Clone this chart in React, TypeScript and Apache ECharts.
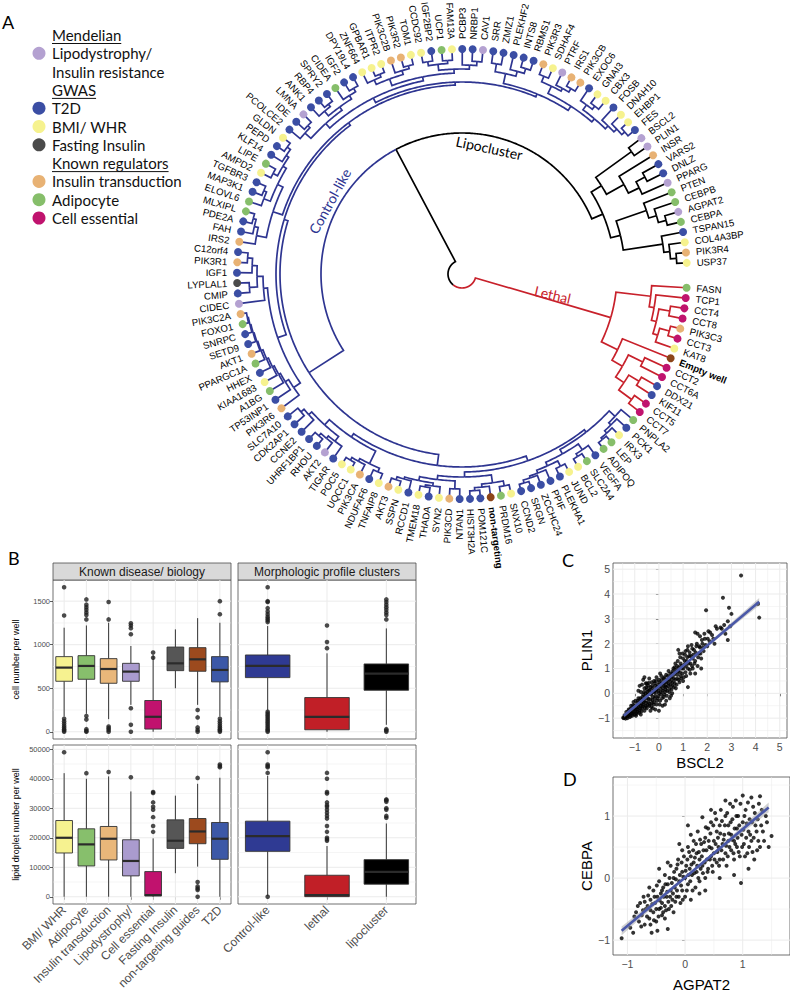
import React, { useEffect, useRef } from 'react';
import * as echarts from 'echarts';

// ---------------- Panel A : dendrogram data ----------------
const CAT_COLORS: Record<string, string> = {
  L: '#b4a1d1', T: '#3b4ea4', B: '#f6f28e', F: '#4b4b4b', I: '#e8b274', A: '#86be6a', E: '#c0136e', N: '#8c4519',
};
const GROUP_COLORS: Record<string, string> = { root: '#000000', lethal: '#c8212b', control: '#2e3591', lipo: '#000000' };

const lethalLeaves = ['FASN', 'TCP1', 'CCT4', 'CCT8', 'PIK3C3', 'CCT3', 'KAT8', 'Empty well', 'CCT2', 'CCT6A', 'DDX21', 'KIF11', 'CCT5', 'CCT7'];
const lethalCats = ['A', 'E', 'E', 'E', 'I', 'E', 'B', 'N', 'E', 'E', 'T', 'T', 'E', 'E'];
const controlLeaves = ['PNPLA2', 'PCK1', 'IRX3', 'LEP', 'ADIPOQ', 'VEGFA', 'SLC2A4', 'BCL2', 'JUND', 'PLEKHA1', 'PPIF', 'ZCCHC24', 'SRGN', 'CCND2', 'SNX10', 'PRDM16', 'non-targeting', 'POM121C', 'HIST3H2A', 'NTAN1', 'PIK3CD', 'SYN2', 'THADA', 'TMEM18', 'RCCD1', 'SSPN', 'AKT3', 'TNFAIP8', 'NDUFAF6', 'PIK3CA', 'UQCC1', 'POC5', 'TIGAR', 'AKT2', 'RHOU', 'UHRF1BP1', 'CCNE2', 'CDK2AP1', 'SLC7A10', 'PIK3R6', 'TP53INP1', 'A1BG', 'KIAA1683', 'HHEX', 'PPARGC1A', 'AKT1', 'SETD9', 'SNRPC', 'FOXO1', 'PIK3C2A', 'CIDEC', 'CMIP', 'LYPLAL1', 'IGF1', 'PIK3R1', 'C12orf4', 'IRS2', 'FAH', 'PDE2A', 'MLXIPL', 'ELOVL6', 'MAP3K1', 'TGFBR3', 'AMPD2', 'LIPE', 'KLF14', 'PEPD', 'GLDN', 'PCOLCE2', 'IDE', 'LMNA', 'ANK1', 'RBP4', 'SPRY2', 'CIDEA', 'IGF2', 'DPY19L4', 'ZNF664', 'GPBAR1', 'ITPR2', 'PIK3C2B', 'PIK3R2', 'TOM1', 'CCDC92', 'IGF2BP2', 'UCP1', 'FAM13A', 'PCBP3', 'NRBP1', 'CAV1', 'SRR', 'ZMIZ1', 'PLEKHF2', 'INTS8', 'RBMS1', 'PIK3R3', 'SDHAF4', 'PTRF', 'IRS1', 'PIK3CB', 'EXOC6', 'GNAI3', 'CBX3', 'FOSB', 'DNAH10', 'EHBP1', 'FES'];
const controlCats = ['A', 'T', 'B', 'A', 'A', 'T', 'A', 'B', 'B', 'T', 'T', 'T', 'T', 'T', 'B', 'A', 'N', 'T', 'T', 'T', 'I', 'B', 'T', 'B', 'T', 'B', 'I', 'B', 'T', 'I', 'B', 'B', 'T', 'L', 'T', 'T', 'T', 'T', 'T', 'I', 'T', 'A', 'B', 'T', 'A', 'I', 'T', 'T', 'A', 'I', 'L', 'T', 'F', 'T', 'I', 'T', 'I', 'T', 'T', 'A', 'A', 'T', 'T', 'B', 'A', 'T', 'T', 'B', 'T', 'T', 'L', 'T', 'T', 'T', 'A', 'T', 'T', 'B', 'B', 'B', 'I', 'I', 'B', 'B', 'T', 'A', 'B', 'T', 'T', 'L', 'T', 'T', 'T', 'T', 'T', 'I', 'B', 'L', 'I', 'I', 'T', 'B', 'B', 'T', 'B', 'B', 'T'];
const lipoLeaves = ['BSCL2', 'PLIN1', 'INSR', 'VARS2', 'DNLZ', 'PPARG', 'PTEN', 'CEBPB', 'AGPAT2', 'CEBPA', 'TSPAN15', 'COL4A3BP', 'PIK3R4', 'USP37'];
const lipoCats = ['L', 'L', 'I', 'T', 'T', 'L', 'A', 'A', 'L', 'A', 'T', 'B', 'I', 'B'];

// merge heights (distance inward from the leaf ring)
const ROOT_H = 211;
const OTHER_H = 84;
const lethalTree: any = [70,
  [35, 'FASN', [30, 'TCP1', [25, [14, 'CCT4', 'CCT8'], [20, [10, 'PIK3C3', 'CCT3'], 'KAT8']]]],
  [52, 'Empty well', [40, [24, 'CCT2', 'CCT6A'], [30, [18, 'DDX21', 'KIF11'], [14, 'CCT5', 'CCT7']]]],
];
const lipoTree: any = [72,
  [60, [16, 'BSCL2', 'PLIN1'], [40, 'INSR', [28, [18, 'VARS2', 'DNLZ'], 'PPARG']]],
  [62, [30, 'PTEN', [22, 'CEBPB', [14, 'AGPAT2', 'CEBPA']]], [22, 'TSPAN15', [16, 'COL4A3BP', [10, 'PIK3R4', 'USP37']]]],
];
const controlTree: any = [43,
  [32,
    [27,
      [24,
        [16, 'PNPLA2', [13, 'PCK1', [10, 'IRX3', [8, 'LEP', 'ADIPOQ']]]],
        [19, [12, 'VEGFA', [9, 'SLC2A4', 'BCL2']], [15, [9, 'JUND', 'PLEKHA1'], [12, 'PPIF', [10, 'ZCCHC24', [7, 'SRGN', 'CCND2']]]]],
      ],
      [22, [14, [9, 'SNX10', 'PRDM16'], [11, 'non-targeting', [8, 'POM121C', 'HIST3H2A']]],
        [18, [10, 'NTAN1', 'PIK3CD'], [14, [11, 'SYN2', [9, 'THADA', 'TMEM18']], [12, 'RCCD1', [9, 'SSPN', 'AKT3']]]]],
    ],
    [28,
      [14, [10, 'TNFAIP8', 'NDUFAF6'], [11, 'PIK3CA', [8, 'UQCC1', 'POC5']]],
      [21, [15, 'TIGAR', [12, 'AKT2', [9, 'RHOU', 'UHRF1BP1']]], [17, 'CCNE2', [13, 'CDK2AP1', 'SLC7A10']]],
    ],
  ],
  [39,
    [30,
      [22, 'PIK3R6', [18, 'TP53INP1', [16, 'A1BG', [14, 'KIAA1683', [12, 'HHEX', [10, 'PPARGC1A', [9, 'AKT1', [8, 'SETD9', [7, 'SNRPC', [6, 'FOXO1', 'PIK3C2A']]]]]]]]]],
      [26, 'CIDEC', [20, [12, 'CMIP', 'LYPLAL1'], [15, 'IGF1', [10, 'PIK3R1', 'C12orf4']]]],
    ],
    [36,
      [26, [16, 'IRS2', [12, 'FAH', [9, 'PDE2A', 'MLXIPL']]], [20, [13, 'ELOVL6', [10, 'MAP3K1', 'TGFBR3']], [16, [11, 'AMPD2', 'LIPE'], [13, 'KLF14', [9, 'PEPD', 'GLDN']]]]],
      [33,
        [28, [22, [14, 'PCOLCE2', [11, 'IDE', 'LMNA']], [18, [12, 'ANK1', [9, 'RBP4', 'SPRY2']], [14, 'CIDEA', [10, 'IGF2', 'DPY19L4']]]],
          [24, [17, [12, 'ZNF664', [9, 'GPBAR1', 'ITPR2']], [13, 'PIK3C2B', [10, 'PIK3R2', 'TOM1']]], [20, [14, [10, 'CCDC92', 'IGF2BP2'], [11, 'UCP1', 'FAM13A']], [16, 'PCBP3', [12, 'NRBP1', 'CAV1']]]]],
        [30, [20, [12, 'SRR', 'ZMIZ1'], [15, 'PLEKHF2', [10, 'INTS8', 'RBMS1']]],
          [25, [17, [11, 'PIK3R3', 'SDHAF4'], [14, 'PTRF', [10, 'IRS1', 'PIK3CB']]], [21, [15, 'EXOC6', [11, 'GNAI3', 'CBX3']], [17, 'FOSB', [13, 'DNAH10', [9, 'EHBP1', 'FES']]]]]],
      ],
    ],
  ],
];
const ANGLE_SLOTS = 136.4; // leaf slots around the full circle
const cladeLabels = [
  { text: 'Lethal', h: 132, a: 3.5, mode: 'radial', group: 'lethal' },
  { text: 'Lipocluster', h: 96, a: 105.6, mode: 'tangent', group: 'lipo' },
  { text: 'Control-like', h: 74, a: 77.8, mode: 'tangent', group: 'control' },
];
const legendRows = [
  { kind: 'head', text: 'Mendelian' },
  { kind: 'item', cat: 'L', text: 'Lipodystrophy/' },
  { kind: 'cont', text: 'Insulin resistance' },
  { kind: 'head', text: 'GWAS' },
  { kind: 'item', cat: 'T', text: 'T2D' },
  { kind: 'item', cat: 'B', text: 'BMI/ WHR' },
  { kind: 'item', cat: 'F', text: 'Fasting Insulin' },
  { kind: 'head', text: 'Known regulators' },
  { kind: 'item', cat: 'I', text: 'Insulin transduction' },
  { kind: 'item', cat: 'A', text: 'Adipocyte' },
  { kind: 'item', cat: 'E', text: 'Cell essential' },
];

// ---------------- Panel B : boxplots ----------------
const knownCats = ['BMI/ WHR', 'Adipocyte', 'Insulin transduction', 'Lipodystrophy/', 'Cell essential', 'Fasting Insulin', 'non-targeting guides', 'T2D'];
const knownColors = ['#f6f290', '#87bf6c', '#e9b77a', '#aa9bce', '#c1126e', '#565656', '#9c4a1e', '#3c58a7'];
const clusterCats = ['Control-like', 'lethal', 'lipocluster'];
const clusterColors = ['#2f3a93', '#c11f27', '#000000'];
// [min, q1, median, q3, max]
const cellKnown = [
  [175, 580, 737, 863, 1195], [206, 603, 756, 874, 1221], [145, 557, 721, 840, 1252], [309, 580, 691, 786, 985],
  [0, 31, 172, 359, 886], [500, 702, 786, 973, 1176], [309, 695, 832, 966, 1305], [175, 573, 710, 863, 1252],
];
const cellCluster = [[244, 622, 756, 882, 1214], [0, 23, 172, 393, 901], [80, 477, 668, 779, 1187]];
const lipidKnown = [
  [0, 14840, 20000, 25850, 41900], [0, 10450, 17760, 23040, 40000], [0, 12480, 19670, 23830, 40800], [0, 7080, 12140, 19330, 35700],
  [0, 300, 560, 8540, 19800], [7980, 16410, 19000, 26080, 34280], [10230, 17980, 22140, 26530, 38300], [0, 12700, 19670, 25180, 40350],
];
const lipidCluster = [[300, 15400, 20570, 25630, 41000], [0, 50, 560, 7300, 17200], [0, 4270, 8430, 12590, 24840]];
const cellKnownOut = [
  [1660, 1335, 150, 120, 95, 70, 50, 30, 15, 0], [1520, 1460, 1430, 1400, 1370, 1340, 1290, 180, 140, 30, 10, 0],
  [1490, 1290, 60, 40, 20, 0], [1245, 1220, 1190, 1120, 270, 80, 0], [910, 850], [], [250, 165, 50, 20, 0],
  [1500, 1350, 150, 120, 95, 70, 50, 30, 15, 0],
];
const cellClusterOut = [
  [1660, 1500, 1490, 1420, 1380, 1350, 1320, 1300, 1280, 1260, 230, 210, 190, 170, 150, 130, 110, 90, 70, 50, 30, 15, 0],
  [1220, 1030, 960],
  [1520, 1490, 1460, 1430, 1400, 1370, 1340, 1290, 30, 15, 0],
];
const lipidKnownOut = [[49000], [41900], [42300], [40500], [35500, 35200, 32000, 30500, 29500, 27000, 24000, 22000], [], [40300, 5000, 3500, 2800, 2300, 0], [44800, 44300, 43900]];
const lipidClusterOut = [
  [49000, 44800, 44300, 43900, 42000, 0],
  [42000, 40000, 35500, 35000, 32000, 31000, 30500, 29500, 28500, 27500, 26500, 24000, 22000, 20000, 19500, 19000],
  [33000, 32700, 32200, 30000, 29500, 27400, 26800],
];
const cellMajor = [0, 500, 1000, 1500];
const cellMinor = [250, 750, 1250];
const lipidMajor = [0, 10000, 20000, 30000, 40000, 50000];
const lipidMinor = [5000, 15000, 25000, 35000, 45000];

// ---------------- Panel C / D : scatter ----------------
const scatterC = [
  [-1.45, -1.0], [-1.4, -0.95], [-1.35, -0.9], [-1.3, -1.0], [-1.25, -0.85], [-1.2, -0.95], [-1.2, -0.7], [-1.15, -0.8], [-1.1, -0.9], [-1.1, -0.6],
  [-1.05, -0.75], [-1.0, -0.5], [-1.0, -0.85], [-0.95, -0.65], [-0.9, -0.4], [-0.9, -0.75], [-0.85, -0.55], [-0.85, -0.2], [-0.8, -0.7], [-0.8, -0.35],
  [-0.75, -0.5], [-0.75, 0.05], [-0.7, -0.6], [-0.7, -0.25], [-0.7, 0.35], [-0.65, -0.45], [-0.65, -0.05], [-0.6, -0.7], [-0.6, -0.3], [-0.6, 0.2],
  [-0.55, -0.5], [-0.55, 0.0], [-0.55, 0.4], [-0.5, -0.2], [-0.5, -0.6], [-0.5, 0.15], [-0.45, -0.35], [-0.45, 0.3], [-0.45, -0.05], [-0.4, -0.5],
  [-0.4, 0.1], [-0.4, 0.6], [-0.35, -0.25], [-0.35, 0.25], [-0.3, -0.4], [-0.3, 0.0], [-0.3, 0.45], [-0.25, -0.15], [-0.25, 0.2], [-0.25, -0.6],
  [-0.2, 0.05], [-0.2, 0.5], [-0.2, -0.35], [-0.15, -0.1], [-0.15, 0.3], [-0.1, 0.15], [-0.1, -0.45], [-0.1, 0.65], [-0.05, -0.2], [-0.05, 0.35],
  [0.0, 0.0], [0.0, -0.7], [0.0, 0.55], [0.05, 0.2], [0.05, -0.3], [0.1, 0.4], [0.1, -0.05], [0.1, 0.7], [0.15, 0.1], [0.15, -0.5],
  [0.2, 0.3], [0.2, 0.6], [0.2, -0.15], [0.25, 0.45], [0.25, 0.05], [0.3, 0.25], [0.3, 0.75], [0.3, -0.3], [0.35, 0.55], [0.35, 0.1],
  [0.4, 0.4], [0.4, 0.9], [0.45, 0.2], [0.45, 0.65], [0.5, 0.5], [0.5, -0.1], [0.55, 0.8], [0.55, 0.3], [0.6, 0.6], [0.6, 1.0],
  [0.65, 0.4], [0.7, 0.85], [0.7, 0.2], [0.75, 1.1], [0.75, 0.6], [0.8, 1.75], [0.8, 0.9], [0.85, 0.45], [0.85, 1.6], [0.9, 1.2],
  [0.9, 0.7], [0.95, 1.0], [1.0, 1.4], [1.0, 0.5], [1.05, 1.15], [1.1, 1.7], [1.1, 0.85], [1.15, 1.3], [1.2, 1.0], [1.2, 1.9],
  [1.25, 1.5], [1.3, 1.2], [1.3, 0.8], [1.35, 1.95], [1.4, 1.4], [1.4, 1.0], [1.45, 1.75], [1.5, 2.45], [1.5, 1.3], [1.55, 1.9],
  [1.6, 2.4], [1.6, 1.1], [1.65, 1.6], [1.7, 2.3], [1.7, 1.85], [1.75, 1.4], [1.8, 2.0], [1.85, 1.7], [1.9, 2.2], [1.95, 3.35],
  [2.0, 1.9], [2.05, 2.5], [2.1, 2.1], [2.2, 2.35], [2.3, 2.0], [2.4, 2.6], [2.55, 2.65], [2.6, 2.6], [2.65, 3.85], [2.7, 2.75],
  [2.75, 2.4], [2.85, 2.9], [2.85, 2.15], [2.9, 3.45], [3.0, 3.2], [2.95, 2.7], [3.4, 4.75], [4.1, 3.6], [4.15, 3.05],
  [-1.35, -0.75], [-1.25, -0.65], [-1.15, -0.5], [-1.05, -0.35], [-0.95, -0.9], [-0.85, 0.1], [-0.75, -0.85], [-0.65, 0.55], [-0.5, 0.4], [-0.35, -0.7],
  [-0.15, -0.65], [0.05, 0.8], [0.25, -0.45], [-0.6, 0.65], [-0.8, 0.3], [0.45, -0.2], [0.65, 1.05], [0.55, 0.0], [1.2, 0.25], [1.5, 0.8], [1.75, 1.0],
  [-1.48, -0.98], [-1.42, -0.88], [-1.38, -1.02], [-1.33, -0.82], [-1.28, -0.92], [-1.27, -0.72], [-1.22, -0.82], [-1.18, -0.62], [-1.17, -0.9], [-1.12, -0.72],
  [-1.08, -0.82], [-1.07, -0.48], [-1.03, -0.62], [-0.98, -0.72], [-0.97, -0.3], [-0.93, -0.55], [-0.92, -0.82], [-0.88, -0.65], [-0.87, -0.3], [-0.83, -0.45],
  [-0.82, -0.78], [-0.78, -0.6], [-0.77, -0.2], [-0.73, -0.4], [-0.72, -0.72], [-0.68, -0.15], [-0.67, -0.52], [-0.63, -0.35], [-0.62, 0.05], [-0.58, -0.58],
  [-0.57, -0.12], [-0.53, -0.38], [-0.52, 0.25], [-0.48, -0.48], [-0.47, 0.05], [-0.43, -0.22], [-0.42, 0.42], [-0.38, -0.42], [-0.37, 0.15], [-0.33, -0.05],
  [-0.32, -0.55], [-0.28, 0.3], [-0.27, -0.28], [-0.23, 0.08], [-0.22, -0.45], [-0.18, 0.4], [-0.17, -0.2], [-0.13, 0.05], [-0.12, 0.5], [-0.08, -0.3],
  [-0.07, 0.25], [-0.03, 0.1], [-0.02, -0.12], [0.02, 0.45], [0.03, -0.45], [0.07, 0.3], [0.08, 0.05], [0.12, 0.55], [0.13, -0.2], [0.17, 0.2],
  [0.18, 0.4], [0.22, -0.05], [0.23, 0.65], [0.27, 0.3], [0.28, 0.15], [0.32, 0.45], [0.33, -0.1], [0.37, 0.7], [0.38, 0.3], [0.42, 0.55],
  [0.43, 0.05], [0.47, 0.8], [0.48, 0.35], [0.52, 0.15], [0.53, 0.65], [0.57, 0.45], [0.58, 0.9], [0.62, 0.25], [0.63, 0.75], [0.67, 0.55],
  [0.68, 1.2], [0.72, 0.95], [0.73, 0.35], [0.77, 0.75], [0.78, 1.3], [0.82, 0.55], [0.83, 1.05], [0.87, 0.85], [0.88, 1.45], [0.92, 0.6],
  [0.93, 1.1], [0.97, 0.8], [0.98, 1.6], [1.02, 1.0], [1.03, 0.65], [1.07, 1.3], [1.08, 1.55], [1.12, 1.1], [1.13, 0.7], [1.17, 1.45],
  [1.18, 1.75], [1.22, 1.2], [1.27, 1.65], [1.28, 0.95], [1.32, 1.5], [1.37, 1.1], [1.38, 1.8], [1.42, 1.55], [1.47, 1.2], [1.52, 1.65],
  [1.57, 2.0], [1.62, 1.45], [1.67, 1.9], [1.72, 1.6], [1.78, 2.15], [1.83, 1.85], [1.88, 2.4], [1.93, 1.95], [2.02, 2.2], [2.12, 2.45],
  [2.25, 2.2], [2.35, 2.7],
];
const scatterD = [
  [-1.1, -0.97], [-0.95, -0.8], [-0.9, -0.88], [-0.85, -0.55], [-0.8, -0.7], [-0.78, -0.4], [-0.75, -0.6], [-0.72, -0.3], [-0.7, -0.75], [-0.68, -0.5],
  [-0.65, -0.45], [-0.62, -0.65], [-0.6, -0.35], [-0.58, -0.88], [-0.55, -0.55], [-0.55, -0.2], [-0.52, -0.4], [-0.5, -0.7], [-0.48, -0.3], [-0.45, -0.5],
  [-0.45, -0.05], [-0.42, -0.25], [-0.4, -0.6], [-0.4, -0.4], [-0.38, -0.15], [-0.35, -0.45], [-0.35, 0.05], [-0.32, -0.3], [-0.3, -0.82], [-0.3, -0.1],
  [-0.28, -0.5], [-0.25, -0.2], [-0.25, 0.2], [-0.22, -0.35], [-0.2, 0.0], [-0.2, -0.55], [-0.18, -0.15], [-0.15, 0.15], [-0.15, -0.3], [-0.12, 0.3],
  [-0.1, -0.05], [-0.1, 0.55], [-0.08, -0.4], [-0.05, 0.1], [-0.05, -0.2], [-0.02, 0.35], [0.0, 0.0], [0.0, -0.3], [0.02, 0.2], [0.05, 0.5],
  [0.05, -0.1], [0.08, 0.15], [0.1, 0.35], [0.1, -0.35], [0.12, 0.05], [0.15, 0.6], [0.15, 0.25], [0.18, -0.15], [0.2, 0.4], [0.2, 0.1],
  [0.22, 0.75], [0.25, 0.3], [0.25, -0.05], [0.28, 0.55], [0.3, 0.98], [0.3, 0.2], [0.32, 0.45], [0.35, 0.0], [0.35, 0.65], [0.38, 0.3],
  [0.4, 0.8], [0.4, 0.15], [0.42, 0.5], [0.45, 0.35], [0.45, 0.9], [0.48, 0.1], [0.5, 0.6], [0.5, 0.4], [0.52, 1.05], [0.55, 0.25],
  [0.55, 0.75], [0.58, 0.5], [0.6, 0.85], [0.6, 0.3], [0.62, 1.1], [0.65, 0.55], [0.68, 0.7], [0.7, 0.4], [0.7, 1.0], [0.72, 0.2],
  [0.75, 0.6], [0.75, 0.85], [0.78, 1.2], [0.8, 0.45], [0.8, 0.7], [0.82, 0.95], [0.85, 0.3], [0.85, 0.6], [0.88, 1.25], [0.9, 0.8],
  [0.9, 0.5], [0.92, 1.0], [0.95, 0.35], [0.97, -0.08], [0.98, 0.7], [1.0, 1.33], [1.0, 0.9], [1.02, 0.55], [1.05, 1.1], [1.08, 0.4],
  [1.1, 0.75], [1.12, 0.95], [1.15, 0.6], [1.18, 1.15], [1.2, 0.3], [1.22, 0.85], [1.25, 0.45], [1.28, 1.2], [1.3, 1.32], [1.3, 0.5],
  [1.35, 0.75], [1.4, 1.0], [1.5, 0.68], [-0.6, -0.75], [-0.48, -0.85], [-0.35, -0.65], [-0.62, -0.15], [-0.05, 0.45], [0.1, 0.7], [0.35, -0.2],
  [0.6, 0.0], [0.85, 0.05], [1.1, 0.15], [0.25, -0.25], [-0.3, 0.25], [-0.45, 0.15], [0.05, 0.85], [0.45, 1.1], [0.7, 1.25], [1.15, 1.3],
  [-0.88, -0.62], [-0.82, -0.45], [-0.76, -0.78], [-0.73, -0.52], [-0.7, -0.38], [-0.66, -0.62], [-0.64, -0.28], [-0.6, -0.52], [-0.57, -0.42], [-0.54, -0.68],
  [-0.53, -0.3], [-0.5, -0.5], [-0.49, -0.12], [-0.46, -0.62], [-0.44, -0.36], [-0.42, -0.48], [-0.4, -0.2], [-0.38, -0.55], [-0.37, -0.3], [-0.34, -0.1],
  [-0.33, -0.52], [-0.31, -0.22], [-0.29, -0.38], [-0.27, 0.0], [-0.26, -0.3], [-0.24, -0.45], [-0.23, -0.08], [-0.21, -0.25], [-0.19, 0.1], [-0.17, -0.38],
  [-0.16, -0.02], [-0.14, -0.2], [-0.13, 0.22], [-0.11, -0.3], [-0.09, 0.05], [-0.07, -0.12], [-0.06, 0.25], [-0.04, -0.35], [-0.03, 0.02], [0.01, 0.12],
  [0.03, -0.2], [0.04, 0.3], [0.06, 0.05], [0.07, 0.42], [0.09, -0.05], [0.11, 0.22], [0.13, -0.2], [0.14, 0.45], [0.16, 0.08], [0.17, 0.33],
  [0.19, 0.55], [0.21, 0.2], [0.23, 0.0], [0.24, 0.42], [0.26, 0.62], [0.27, 0.15], [0.29, 0.35], [0.31, 0.08], [0.33, 0.58], [0.34, 0.25],
  [0.36, 0.82], [0.37, 0.45], [0.39, 0.1], [0.41, 0.6], [0.43, 0.3], [0.44, 0.72], [0.46, 0.48], [0.47, 0.2], [0.49, 0.85], [0.51, 0.3],
  [0.53, 0.55], [0.54, 0.95], [0.56, 0.42], [0.57, 0.65], [0.59, 0.2], [0.61, 0.72], [0.63, 0.45], [0.64, 0.92], [0.66, 0.3], [0.67, 0.62],
  [0.69, 0.85], [0.71, 0.52], [0.73, 1.05], [0.74, 0.35], [0.76, 0.72], [0.77, 0.5], [0.79, 0.9], [0.81, 0.62], [0.83, 1.15], [0.84, 0.4],
  [0.86, 0.8], [0.87, 0.55], [0.89, 1.0], [0.91, 0.65], [0.93, 0.42], [0.94, 0.85], [0.96, 1.2], [0.99, 0.5], [1.01, 0.78], [1.03, 1.0],
  [1.04, 0.35], [1.06, 0.65], [1.07, 0.88], [1.09, 1.22], [1.11, 0.5], [1.13, 0.7], [1.16, 0.9], [1.17, 0.42], [1.19, 0.65], [1.21, 1.05],
  [1.24, 0.75], [1.26, 0.95], [1.27, 0.6], [1.32, 0.85], [1.33, 1.1], [1.37, 0.6], [1.42, 0.9], [1.45, 0.5],
];
const fitC = [[-1.45, -0.9], [4.15, 3.69]];
const bandC = [[-1.45, -0.98, -0.82], [0, 0.26, 0.32], [1.5, 1.48, 1.56], [3, 2.65, 2.85], [4.15, 3.54, 3.84]];
const fitD = [[-1.1, -0.85], [1.45, 1.14]];
const bandD = [[-1.1, -0.92, -0.78], [0, -0.01, 0.03], [0.5, 0.375, 0.425], [1.45, 1.06, 1.22]];
const cMajor = [-1, 0, 1, 2, 3, 4, 5];
const cMinor = [-1.5, -0.5, 0.5, 1.5, 2.5, 3.5, 4.5];
const dMajor = [-1, 0, 1];
const dMinor = [-0.5, 0.5, 1.5];

// ---------------- helpers ----------------
const FONT_GG = '"Liberation Sans", Arial, sans-serif';
const FONT_MY = 'Lato, "Open Sans", sans-serif';

type TNode = { h: number; angle: number; parent: number; group: string; leaf?: string; cat?: string };

function buildTree(): TNode[] {
  const catOf: Record<string, string> = {};
  lethalLeaves.forEach((n, i) => (catOf[n] = lethalCats[i]));
  controlLeaves.forEach((n, i) => (catOf[n] = controlCats[i]));
  lipoLeaves.forEach((n, i) => (catOf[n] = lipoCats[i]));
  const nodes: TNode[] = [];
  let leafCounter = 0;
  const walk = (t: any, parent: number, group: string): number => {
    const idx = nodes.length;
    if (typeof t === 'string') {
      nodes.push({ h: 0, angle: leafCounter++, parent, group, leaf: t, cat: catOf[t] });
      return idx;
    }
    nodes.push({ h: t[0], angle: 0, parent, group });
    const kids = t.slice(1).map((c: any) => walk(c, idx, group));
    nodes[idx].angle = (nodes[kids[0]].angle + nodes[kids[kids.length - 1]].angle) / 2;
    return idx;
  };
  nodes.push({ h: ROOT_H, angle: 0, parent: -1, group: 'root' });
  const a = walk(lethalTree, 0, 'lethal');
  const otherIdx = nodes.length;
  nodes.push({ h: OTHER_H, angle: 0, parent: 0, group: 'root' });
  const c = walk(controlTree, otherIdx, 'control');
  const l = walk(lipoTree, otherIdx, 'lipo');
  nodes[otherIdx].angle = (nodes[c].angle + nodes[l].angle) / 2;
  nodes[0].angle = (nodes[a].angle + nodes[otherIdx].angle) / 2;
  return nodes;
}

function measure(text: string, font: string): number {
  const ctx = document.createElement('canvas').getContext('2d')!;
  ctx.font = font;
  return ctx.measureText(text).width;
}

const fmtNum = (v: number) => {
  const r = Math.round(v);
  if (Math.abs(v - r) > 1e-6) return '';
  return r < 0 ? '\u2212' + Math.abs(r) : String(r);
};

function buildOption() {
  const nodes = buildTree();
  const edgeData = nodes.map((n, i) => [n.h, n.angle, i]).filter((d) => d[2] !== 0);
  const leafData = nodes.map((n, i) => [n.h, n.angle, i]).filter((d) => nodes[d[2]].leaf);
  const cladeData = cladeLabels.map((c, i) => [c.h, c.a, i]);

  // ---- layout constants ----
  const B = { l1: 53, l2: 238, w: 178, t1: 580, t2: 745, h: 159, stripY: 563, stripH: 17 };
  const C = { l: 613, t: 563, w: 174, h: 175 };
  const D = { l: 613, t: 777, w: 187, h: 178 };

  const grids = [
    { left: B.l1, top: B.t1, width: B.w, height: B.h },
    { left: B.l2, top: B.t1, width: B.w, height: B.h },
    { left: B.l1, top: B.t2, width: B.w, height: B.h },
    { left: B.l2, top: B.t2, width: B.w, height: B.h },
    { left: C.l, top: C.t, width: C.w, height: C.h },
    { left: D.l, top: D.t, width: D.w, height: D.h },
  ].map((g) => ({ ...g, show: true, borderColor: '#4d4d4d', borderWidth: 0.8, backgroundColor: '#fff', containLabel: false }));

  const tickStyle = { show: true, length: 3, lineStyle: { color: '#333', width: 0.8 } };
  const catAxis = (gi: number, data: string[], labels: boolean) => ({
    gridIndex: gi, type: 'category', data, boundaryGap: true,
    axisLine: { show: false },
    axisTick: labels ? { ...tickStyle, alignWithLabel: true } : { show: false },
    axisLabel: labels
      ? { show: true, rotate: 45, interval: 0, fontSize: 12, color: '#4d4d4d', fontFamily: FONT_GG, margin: 4 }
      : { show: false },
    splitLine: { show: false },
  });
  const valAxis = (gi: number, min: number, max: number, split: number, labels: boolean, name = '', nameGap = 0, nameSize = 9, labelSize = 7.5) => ({
    gridIndex: gi, type: 'value', min, max, splitNumber: split,
    axisLine: { show: false },
    axisTick: labels ? tickStyle : { show: false },
    axisLabel: labels
      ? { show: true, fontSize: labelSize, color: '#4d4d4d', fontFamily: FONT_GG, margin: 3, showMinLabel: false, showMaxLabel: false, formatter: (v: number) => fmtNum(v) }
      : { show: false },
    splitLine: { show: false },
    name, nameLocation: 'middle', nameGap,
    nameTextStyle: { fontSize: nameSize, color: '#000', fontFamily: FONT_GG },
  });

  const xAxis = [
    catAxis(0, knownCats, false),
    catAxis(1, clusterCats, false),
    catAxis(2, knownCats, true),
    catAxis(3, clusterCats, true),
    { ...valAxis(4, -1.9, 5.3, 7, true, 'BSCL2', 17, 15, 10.5) },
    { ...valAxis(5, -1.25, 1.82, 3, true, 'AGPAT2', 22, 15, 10.5) },
  ];
  const yAxis = [
    { ...valAxis(0, -83, 1743, 4, true, 'cell number per well', 33, 9), nameRotate: 90 },
    valAxis(1, -83, 1743, 4, false),
    { ...valAxis(2, -2450, 51450, 5, true, 'lipid droplet number per well', 33, 9), nameRotate: 90 },
    valAxis(3, -2450, 51450, 5, false),
    { ...valAxis(4, -1.8, 5.25, 7, true, 'PLIN1', 14, 15, 10.5), nameRotate: 90 },
    { ...valAxis(5, -1.24, 1.63, 3, true, 'CEBPA', 14, 15, 10.5), nameRotate: 90 },
  ];

  // grid-line series (major + minor)
  const gridLineSeries = (gi: number, items: number[][]) => ({
    type: 'custom', xAxisIndex: gi, yAxisIndex: gi, z: 1, silent: true, data: items,
    renderItem: (params: any, api: any) => {
      const cs = params.coordSys;
      const dim = api.value(0), v = api.value(1), major = api.value(2);
      const style = { stroke: '#ebebeb', lineWidth: major ? 1 : 0.5 };
      if (dim === 0) {
        const x = api.coord([v, 0])[0];
        return { type: 'line', shape: { x1: x, y1: cs.y, x2: x, y2: cs.y + cs.height }, style };
      }
      const y = api.coord([0, v])[1];
      return { type: 'line', shape: { x1: cs.x, y1: y, x2: cs.x + cs.width, y2: y }, style };
    },
  });
  const gl = (xs: number[], xm: number[], ys: number[], ym: number[]) => [
    ...xm.map((v) => [0, v, 0]), ...ym.map((v) => [1, v, 0]), ...xs.map((v) => [0, v, 1]), ...ys.map((v) => [1, v, 1]),
  ];
  const cat8 = knownCats.map((_, i) => i);
  const cat3 = clusterCats.map((_, i) => i);

  const boxSeries = (gi: number, stats: number[][], colors: string[]) => ({
    type: 'custom', xAxisIndex: gi, yAxisIndex: gi, z: 3,
    data: stats.map((s, i) => [i, ...s]),
    renderItem: (params: any, api: any) => {
      const c = api.value(0);
      const p = [1, 2, 3, 4, 5].map((k) => api.coord([c, api.value(k)]));
      const bw = api.size([1, 0])[0] * 0.75;
      const x = p[0][0];
      const col = colors[params.dataIndex];
      const ln = { stroke: '#333', lineWidth: 1 };
      return {
        type: 'group',
        children: [
          { type: 'line', shape: { x1: x, y1: p[4][1], x2: x, y2: p[3][1] }, style: ln },
          { type: 'line', shape: { x1: x, y1: p[1][1], x2: x, y2: p[0][1] }, style: ln },
          { type: 'rect', shape: { x: x - bw / 2, y: p[3][1], width: bw, height: p[1][1] - p[3][1] }, style: { fill: col, stroke: '#333', lineWidth: 0.9 } },
          { type: 'line', shape: { x1: x - bw / 2, y1: p[2][1], x2: x + bw / 2, y2: p[2][1] }, style: { stroke: '#2b2b2b', lineWidth: 2.2 } },
        ],
      };
    },
  });
  const outlierSeries = (gi: number, outs: number[][]) => ({
    type: 'scatter', xAxisIndex: gi, yAxisIndex: gi, z: 4, symbolSize: 4.6, silent: true,
    itemStyle: { color: '#1e1e1e' },
    data: outs.flatMap((arr, i) => arr.map((v) => [i, v])),
  });

  const bandSeries = (gi: number, band: number[][]) => ({
    type: 'custom', xAxisIndex: gi, yAxisIndex: gi, z: 4, silent: true,
    data: band,
    renderItem: (params: any, api: any) => {
      const i = params.dataIndex;
      if (i >= band.length - 1) return null;
      const a = band[i], b = band[i + 1];
      return {
        type: 'polygon',
        shape: { points: [api.coord([a[0], a[1]]), api.coord([b[0], b[1]]), api.coord([b[0], b[2]]), api.coord([a[0], a[2]])] },
        style: { fill: 'rgba(153,153,153,0.45)' },
      };
    },
  });

  // ---------- dendrogram series ----------
  const edgeSeries = {
    type: 'custom', coordinateSystem: 'polar', polarIndex: 0, z: 2, silent: true,
    data: edgeData, encode: { radius: 0, angle: 1 },
    renderItem: (params: any, api: any) => {
      const n = nodes[api.value(2)];
      const p = nodes[n.parent];
      const a0 = p.angle, a1 = n.angle;
      const steps = Math.max(1, Math.ceil(Math.abs(a1 - a0) / 0.2));
      const pts: number[][] = [];
      for (let k = 0; k <= steps; k++) pts.push(api.coord([p.h, a0 + ((a1 - a0) * k) / steps]));
      pts.push(api.coord([n.h, a1]));
      return { type: 'polyline', shape: { points: pts }, style: { stroke: GROUP_COLORS[n.group], lineWidth: 1.7, fill: 'none' } };
    },
  };
  const leafSeries = {
    type: 'custom', coordinateSystem: 'polar', polarIndex: 0, z: 3, silent: true,
    data: leafData, encode: { radius: 0, angle: 1 },
    renderItem: (params: any, api: any) => {
      const n = nodes[api.value(2)];
      const cs = params.coordSys;
      const dot = api.coord([0, n.angle]);
      const lab = api.coord([-10, n.angle]);
      const th = Math.atan2(dot[1] - cs.cy, dot[0] - cs.cx);
      const right = Math.cos(th) >= 0;
      const bold = n.cat === 'N';
      return {
        type: 'group',
        children: [
          { type: 'circle', shape: { cx: dot[0], cy: dot[1], r: 4 }, style: { fill: CAT_COLORS[n.cat!] } },
          {
            type: 'text', x: lab[0], y: lab[1], rotation: right ? -th : -(th - Math.PI),
            style: {
              text: n.leaf, fill: '#000', fontSize: 9.6, fontFamily: FONT_GG, fontWeight: bold ? 'bold' : 'normal',
              align: right ? 'left' : 'right', verticalAlign: 'middle', textAlign: right ? 'left' : 'right', textVerticalAlign: 'middle',
            },
          },
        ],
      };
    },
  };
  const cladeSeries = {
    type: 'custom', coordinateSystem: 'polar', polarIndex: 0, z: 3, silent: true,
    data: cladeData, encode: { radius: 0, angle: 1 },
    renderItem: (params: any, api: any) => {
      const c = cladeLabels[api.value(2)];
      const cs = params.coordSys;
      const pt = api.coord([c.h, c.a]);
      const th = Math.atan2(pt[1] - cs.cy, pt[0] - cs.cx);
      const rot = c.mode === 'radial' ? -th : -(th + Math.PI / 2);
      return {
        type: 'text', x: pt[0], y: pt[1], rotation: rot,
        style: { text: c.text, fill: GROUP_COLORS[c.group], fontSize: 14, fontFamily: FONT_MY, align: 'center', verticalAlign: 'middle', textAlign: 'center', textVerticalAlign: 'middle' },
      };
    },
  };

  // ---------- graphics: legend, strips, panel letters ----------
  const graphics: any[] = [];
  const letter = (t: string, x: number, y: number) =>
    graphics.push({ type: 'text', x, y, style: { text: t, font: '18px ' + FONT_MY, fill: '#000', textVerticalAlign: 'middle', verticalAlign: 'middle' } });
  letter('A', 2, 22);
  letter('B', 8, 558);
  letter('C', 562, 560);
  letter('D', 563, 779);
  const legFont = '15px ' + FONT_MY;
  legendRows.forEach((row, i) => {
    const y = 35 + i * 18.3;
    graphics.push({ type: 'text', x: 52, y, style: { text: row.text, font: legFont, fill: '#111', textVerticalAlign: 'middle', verticalAlign: 'middle' } });
    if (row.kind === 'head') {
      const w = measure(row.text, legFont);
      graphics.push({ type: 'line', shape: { x1: 52, y1: y + 8.5, x2: 52 + w, y2: y + 8.5 }, style: { stroke: '#111', lineWidth: 1 } });
    }
    if (row.kind === 'item') {
      graphics.push({ type: 'circle', shape: { cx: 39, cy: y, r: 6.5 }, style: { fill: CAT_COLORS[row.cat!] } });
    }
  });
  const strip = (x: number, text: string) => {
    graphics.push({ type: 'rect', shape: { x, y: B.stripY, width: B.w, height: B.stripH }, style: { fill: '#d9d9d9', stroke: '#4d4d4d', lineWidth: 0.8 } });
    graphics.push({ type: 'text', x: x + B.w / 2, y: B.stripY + B.stripH / 2 + 0.5, style: { text, font: '12px ' + FONT_GG, fill: '#1a1a1a', textAlign: 'center', align: 'center', textVerticalAlign: 'middle', verticalAlign: 'middle' } });
  };
  strip(B.l1, 'Known disease/ biology');
  strip(B.l2, 'Morphologic profile clusters');

  return {
    animation: false,
    backgroundColor: '#ffffff',
    textStyle: { fontFamily: FONT_GG },
    polar: { center: [462, 274], radius: 225 },
    angleAxis: {
      type: 'value', min: 0, max: ANGLE_SLOTS, startAngle: 356.5, clockwise: true, polarIndex: 0,
      axisLine: { show: false }, axisTick: { show: false }, axisLabel: { show: false }, splitLine: { show: false },
    },
    radiusAxis: {
      type: 'value', min: 0, max: 225, inverse: true, polarIndex: 0,
      axisLine: { show: false }, axisTick: { show: false }, axisLabel: { show: false }, splitLine: { show: false },
    },
    grid: grids,
    xAxis,
    yAxis,
    graphic: graphics,
    series: [
      edgeSeries,
      leafSeries,
      cladeSeries,
      gridLineSeries(0, gl(cat8, [], cellMajor, cellMinor)),
      gridLineSeries(1, gl(cat3, [], cellMajor, cellMinor)),
      gridLineSeries(2, gl(cat8, [], lipidMajor, lipidMinor)),
      gridLineSeries(3, gl(cat3, [], lipidMajor, lipidMinor)),
      gridLineSeries(4, gl(cMajor, cMinor, cMajor, cMinor)),
      gridLineSeries(5, gl(dMajor, dMinor, dMajor, dMinor)),
      boxSeries(0, cellKnown, knownColors),
      boxSeries(1, cellCluster, clusterColors),
      boxSeries(2, lipidKnown, knownColors),
      boxSeries(3, lipidCluster, clusterColors),
      outlierSeries(0, cellKnownOut),
      outlierSeries(1, cellClusterOut),
      outlierSeries(2, lipidKnownOut),
      outlierSeries(3, lipidClusterOut),
      { type: 'scatter', xAxisIndex: 4, yAxisIndex: 4, z: 3, symbolSize: 4, silent: true, itemStyle: { color: '#000' }, data: scatterC },
      { type: 'scatter', xAxisIndex: 5, yAxisIndex: 5, z: 3, symbolSize: 4, silent: true, itemStyle: { color: '#000' }, data: scatterD },
      bandSeries(4, bandC),
      bandSeries(5, bandD),
      { type: 'line', xAxisIndex: 4, yAxisIndex: 4, z: 5, silent: true, showSymbol: false, data: fitC, lineStyle: { color: '#4a58a8', width: 2.6 } },
      { type: 'line', xAxisIndex: 5, yAxisIndex: 5, z: 5, silent: true, showSymbol: false, data: fitD, lineStyle: { color: '#4a58a8', width: 2.6 } },
    ],
  };
}

export default function App() {
  const ref = useRef<HTMLDivElement>(null);
  useEffect(() => {
    const chart = echarts.init(ref.current!, null, { renderer: 'svg' });
    chart.setOption(buildOption() as any);
    return () => chart.dispose();
  }, []);
  return <div ref={ref} style={{ position: 'absolute', left: 0, top: 0, width: 790, height: 995, background: '#fff' }} />;
}
